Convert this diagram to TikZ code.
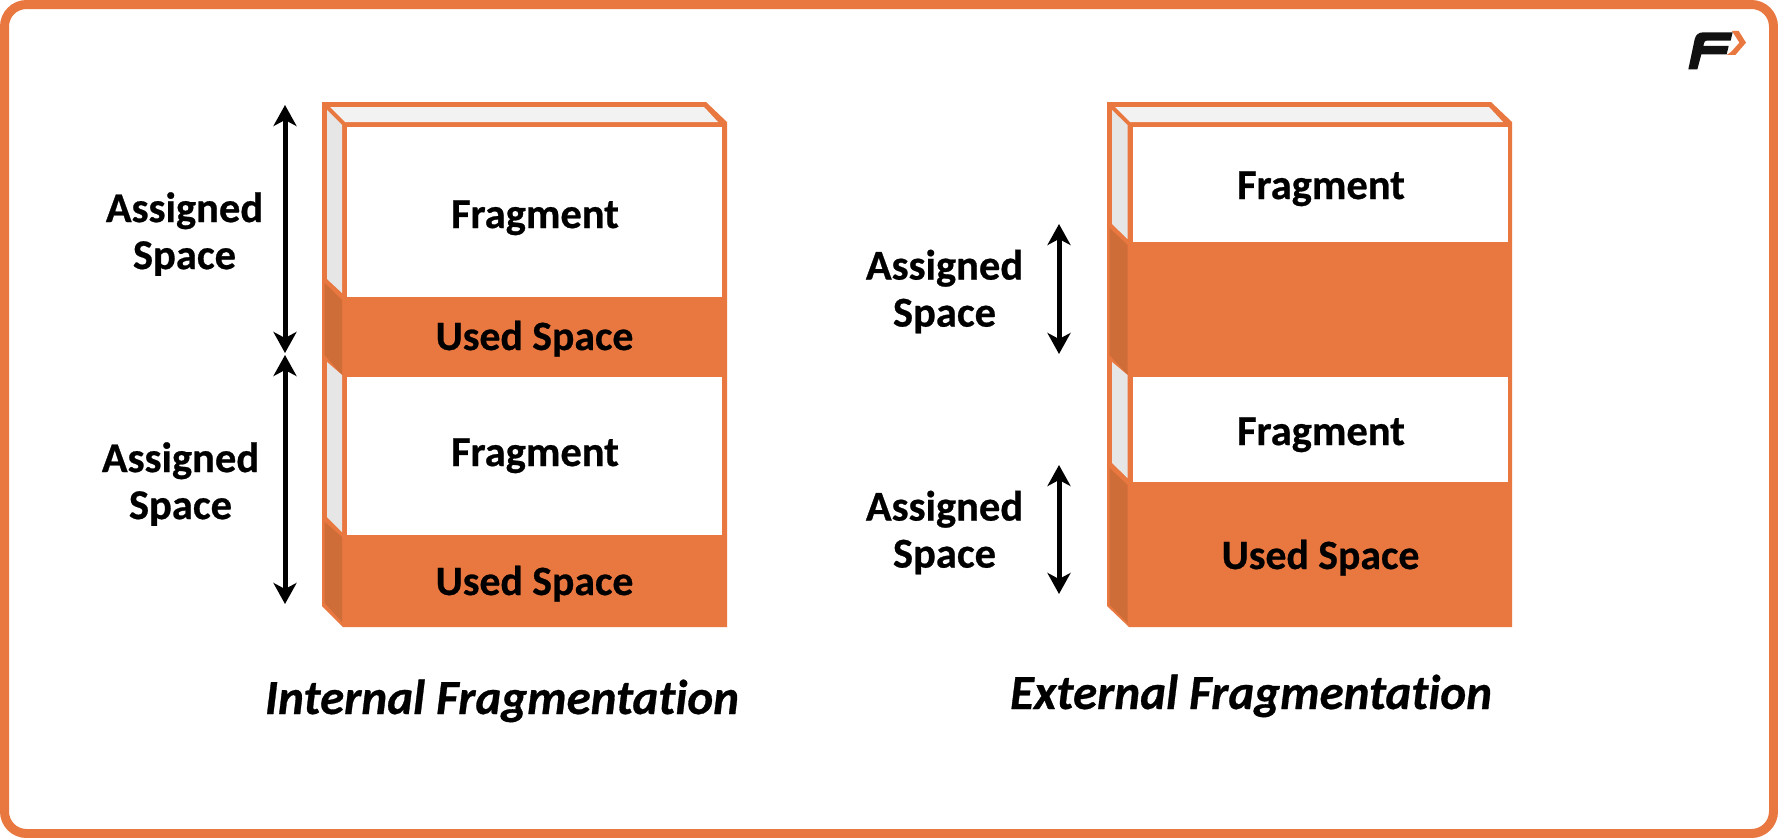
\documentclass[tikz,border=0pt]{standalone}
\usepackage{fontspec}
\setmainfont{Carlito}[Ligatures=NoCommon,BoldFeatures={FakeBold=0.6},BoldItalicFeatures={FakeBold=0.6}]
\usetikzlibrary{arrows.meta}
\definecolor{org}{HTML}{E97740}
\definecolor{orgdark}{HTML}{CE6D38}
\definecolor{sidelight}{HTML}{E6E6E6}
\definecolor{toplight}{HTML}{F2F2F2}
\definecolor{logoblack}{HTML}{111111}
\tikzset{
  x=1pt,y=-1pt,
  frameline/.style={draw=org,line width=9pt,rounded corners=22pt},
  shell/.style={fill=org},
  topface/.style={fill=toplight},
  sideface/.style={fill=sidelight},
  darkface/.style={fill=orgdark},
  hole/.style={fill=white},
  span/.style={line width=5pt,black,{Stealth[length=21pt,width=23pt,inset=6pt]}-{Stealth[length=21pt,width=23pt,inset=6pt]}},
  lbl/.style={font=\fontsize{42.5}{47}\selectfont\bfseries,inner sep=0pt,text=black},
  usedlbl/.style={font=\fontsize{41.7}{47}\selectfont\bfseries,inner sep=0pt,text=black,anchor=base},
  multi/.style={lbl,align=center},
  title/.style={font=\fontsize{49}{56}\selectfont\bfseries\itshape,inner sep=0pt,text=black,anchor=base},
}
\begin{document}
\begin{tikzpicture}
\useasboundingbox (0,0) rectangle (1778,838);
\draw[frameline] (4.5,4.5) rectangle (1773.5,833.5);

% logo
\begin{scope}[shift={(1660,0)},x=0.3333pt,y=-0.3333pt]
\fill[org] (216,93) -- (236,93) -- (258,128) -- (226,165) -- (200,165) -- (214,155) -- (238,128) -- cycle;
\fill[logoblack] (85,208) -- (104,118) .. controls (107,104) and (116,97) .. (130,97) -- (218,97) -- (212,122) -- (140,122) .. controls (135,122) and (133,125) .. (132,130) -- (130,138) -- (206,138) -- (200,163) -- (124,163) -- (112,208) -- cycle;
\end{scope}

% left column
\fill[shell] (322,102) -- (706,102) -- (727,122) -- (727,627) -- (343,627) -- (322,606) -- cycle;
\fill[topface] (330,107) -- (704,107) -- (718,122) -- (345,122) -- cycle;
\fill[sideface] (327,110) -- (342,125) -- (342,293) -- (327,279) -- cycle;
\fill[darkface] (324.7,283) -- (342,300) -- (342,375) -- (324.7,355) -- cycle;
\fill[sideface] (327,362) -- (342,375) -- (342,532) -- (327,517) -- cycle;
\fill[darkface] (324.7,522) -- (342,537) -- (342,622) -- (324.7,603) -- cycle;
\fill[hole] (347,127) rectangle (722,297);
\fill[hole] (347,377) rectangle (722,535);

% right column
\fill[shell] (1107,102) -- (1491,102) -- (1512,122) -- (1512,627) -- (1129,627) -- (1107,606) -- cycle;
\fill[topface] (1115,107) -- (1489,107) -- (1503,122) -- (1130,122) -- cycle;
\fill[sideface] (1112,110) -- (1127.5,125) -- (1127.5,239) -- (1112,224) -- cycle;
\fill[darkface] (1109.5,228) -- (1127.5,245) -- (1127.5,375) -- (1109.5,355) -- cycle;
\fill[sideface] (1112,362) -- (1127.5,375) -- (1127.5,478) -- (1112,463) -- cycle;
\fill[darkface] (1109.5,468) -- (1127.5,485) -- (1127.5,623) -- (1109.5,605) -- cycle;
\fill[hole] (1132.5,127) rectangle (1507.5,242);
\fill[hole] (1132.5,377) rectangle (1507.5,482);

% texts in the columns
\node[lbl,anchor=base] (frA) at (535,228) {Fragment};
\node[usedlbl] (usA) at (534.5,350) {Used Space};
\node[lbl,anchor=base] (frB) at (535,466) {Fragment};
\node[usedlbl] (usB) at (534.5,595) {Used Space};
\node[lbl,anchor=base] (frC) at (1321,199) {Fragment};
\node[lbl,anchor=base] (frD) at (1321,445) {Fragment};
\node[usedlbl] (usD) at (1320.5,569) {Used Space};

% side labels
\node[multi] (asA) at (184.5,234) {Assigned\\Space};
\node[multi] (asB) at (180.5,484) {Assigned\\Space};
\node[multi] (asC) at (944.5,291.5) {Assigned\\Space};
\node[multi] (asD) at (944.5,532.5) {Assigned\\Space};

% spans
\coordinate (a1) at (285,105); \coordinate (a2) at (285,353);
\coordinate (b1) at (285,355); \coordinate (b2) at (285,604);
\coordinate (c1) at (1059,224); \coordinate (c2) at (1059,354);
\coordinate (d1) at (1059,465); \coordinate (d2) at (1059,594);
\draw[span] (a1) -- (a2);
\draw[span] (b1) -- (b2);
\draw[span] (c1) -- (c2);
\draw[span] (d1) -- (d2);

% titles
\node[title] (tiA) at (502,714) {Internal Fragmentation};
\node[title] (tiB) at (1251,709) {External Fragmentation};
\end{tikzpicture}
\end{document}
